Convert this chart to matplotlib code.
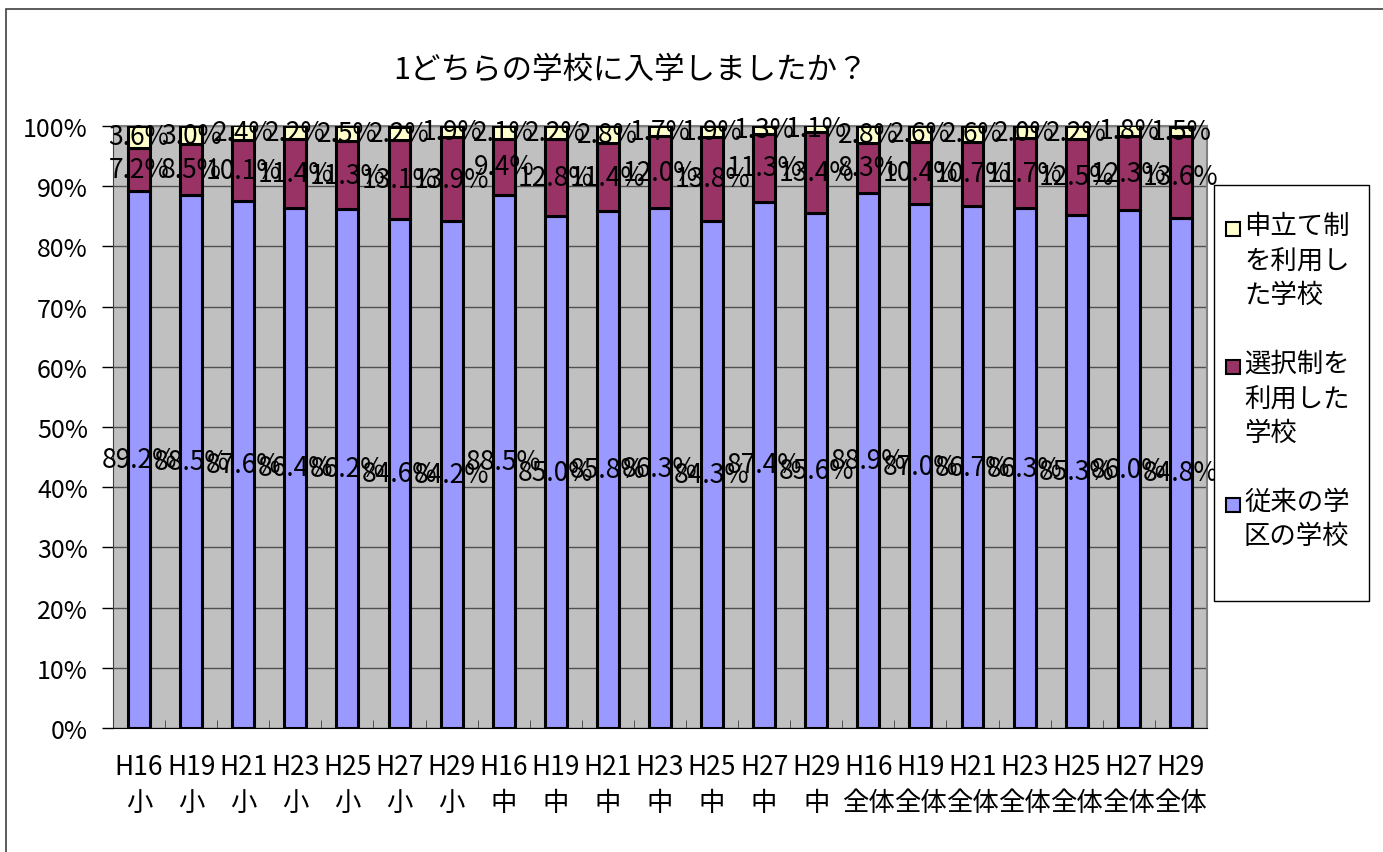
import matplotlib.pyplot as plt
import matplotlib.patches as mpatches
from matplotlib.ticker import MultipleLocator, FixedLocator
import numpy as np

plt.rcParams['font.family'] = ['Noto Sans CJK JP', 'DejaVu Sans']

# data
years = ['H16', 'H19', 'H21', 'H23', 'H25', 'H27', 'H29']
groups = ['小', '中', '全体']
categories = [y + '\n' + g for g in groups for y in years]

conventional = [89.2, 88.5, 87.6, 86.4, 86.2, 84.6, 84.2,
                88.5, 85.0, 85.8, 86.3, 84.3, 87.4, 85.6,
                88.9, 87.0, 86.7, 86.3, 85.3, 86.0, 84.8]
selection = [7.2, 8.5, 10.1, 11.4, 11.3, 13.1, 13.9,
             9.4, 12.8, 11.4, 12.0, 13.8, 11.3, 13.4,
             8.3, 10.4, 10.7, 11.7, 12.5, 12.3, 13.6]
application = [3.6, 3.0, 2.4, 2.2, 2.5, 2.2, 1.9,
               2.1, 2.2, 2.8, 1.7, 1.9, 1.3, 1.1,
               2.8, 2.6, 2.6, 2.0, 2.2, 1.8, 1.5]

series_names = ['従来の学\n区の学校', '選択制を\n利用した\n学校', '申立て制\nを利用し\nた学校']
colors = ['#9999FF', '#993366', '#FFFFCC']

W, H = 1383, 853
fig = plt.figure(figsize=(W / 100, H / 100), dpi=100)
ax = fig.add_axes([0.0817, 0.1454, 0.791, 0.7057])
ax.set_facecolor('#C0C0C0')

x = np.arange(len(categories))
bottom = np.zeros(len(categories))
for vals, c in zip([conventional, selection, application], colors):
    vals = np.array(vals)
    ax.bar(x, vals, width=0.42, bottom=bottom, color=c,
           edgecolor='black', linewidth=2.2, zorder=3)
    for xi, v, b0 in zip(x, vals, bottom):
        ax.text(xi, b0 + v / 2, f'{v:.1f}%', ha='center', va='center',
                fontsize=19, zorder=5)
    bottom += vals

ax.set_xlim(-0.5, len(categories) - 0.5)
ax.set_ylim(0, 100)
ax.yaxis.set_major_locator(MultipleLocator(10))
ax.set_yticklabels([f'{int(v)}%' for v in ax.get_yticks()])
ax.yaxis.grid(True, color='#505050', linewidth=1, zorder=1)
ax.set_axisbelow(True)

ax.set_xticks(x)
ax.set_xticklabels(categories, fontsize=19, linespacing=1.45)
ax.xaxis.set_minor_locator(FixedLocator(np.arange(-0.5, len(categories), 1)))
ax.tick_params(axis='x', which='major', length=0, pad=18)
ax.tick_params(axis='x', which='minor', direction='in', length=6, color='#404040')
ax.tick_params(axis='y', direction='out', length=8, width=1, labelsize=18, pad=10)

for s in ['top', 'right']:
    ax.spines[s].set_color('#808080')
    ax.spines[s].set_linewidth(1.5)
ax.spines['left'].set_color('#404040')
ax.spines['bottom'].set_color('black')

fig.text(630 / W, 1 - 70 / H, '1どちらの学校に入学しましたか？', fontsize=22,
         ha='center', va='center')

# legend drawn by hand so the swatch sits on the first text line
fig.patches.append(mpatches.Rectangle((1214 / W, 1 - 602 / H), 155 / W, 416 / H,
                                      transform=fig.transFigure, facecolor='white',
                                      edgecolor='black', linewidth=1))
legend_items = [(series_names[2], colors[2], 230),
                (series_names[1], colors[1], 368),
                (series_names[0], colors[0], 506)]
for name, c, ytop in legend_items:
    fig.patches.append(mpatches.Rectangle((1226 / W, 1 - (ytop + 7) / H), 14 / W, 14 / H,
                                          transform=fig.transFigure, facecolor=c,
                                          edgecolor='black', linewidth=1.5))
    fig.text(1244 / W, 1 - (ytop - 17) / H, name, fontsize=19, ha='left', va='top',
             linespacing=1.35)

# outer chart border
fig.patches.append(mpatches.Rectangle((6 / W, -0.05), 1.2, 1.05 - 10 / H,
                                      transform=fig.transFigure, fill=False,
                                      edgecolor='#404040', linewidth=1.2))

fig.savefig('out.png', dpi=100)
